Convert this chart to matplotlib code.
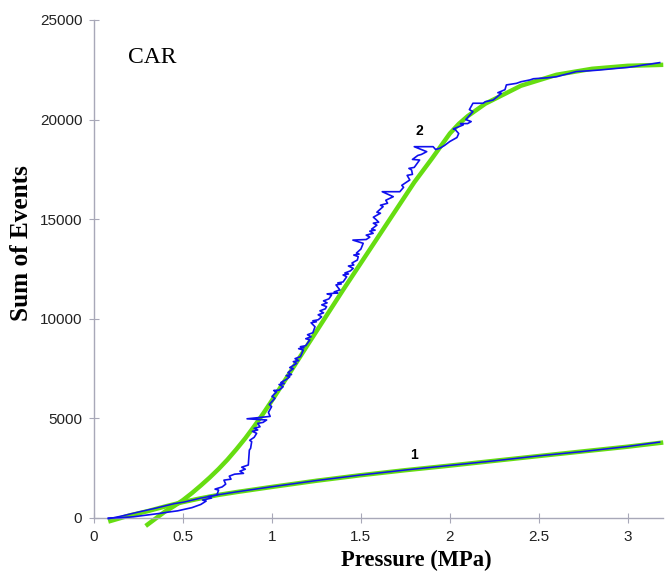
import matplotlib.pyplot as plt

# fitted curves (green)
fit1_x = [0.08, 0.2, 0.3, 0.4, 0.5, 0.6, 0.7, 0.8, 1.0, 1.25, 1.5, 1.75, 2.0, 2.5, 3.0, 3.2]
fit1_y = [-180, 130, 340, 580, 800, 990, 1160, 1300, 1560, 1870, 2150, 2400, 2630, 3110, 3580, 3790]

fit2_x = [0.29, 0.35, 0.4, 0.45, 0.5, 0.55, 0.6, 0.65, 0.7, 0.75, 0.8, 0.85, 0.9, 0.95, 1.0,
          1.1, 1.2, 1.4, 1.6, 1.8, 1.9, 2.0, 2.05, 2.1, 2.2, 2.4, 2.6, 2.8, 3.0, 3.2]
fit2_y = [-400, 0, 330, 600, 900, 1250, 1630, 2030, 2460, 2930, 3450, 4000, 4600, 5230, 5900,
          7280, 8680, 11450, 14150, 16850, 18050, 19300, 19780, 20170, 20800, 21700, 22250,
          22550, 22700, 22750]

# measured curves (blue)
run1_x = [0.08, 0.15, 0.25, 0.35, 0.45, 0.5, 0.52, 0.6, 0.7, 0.8, 1.0, 1.25, 1.5, 1.75, 2.0,
          2.25, 2.5, 2.75, 3.0, 3.18]
run1_y = [-40, 90, 300, 500, 720, 790, 830, 1000, 1170, 1310, 1570, 1880, 2160, 2410, 2640,
          2870, 3120, 3340, 3590, 3810]

run2 = [
    (0.08, 0), (0.15, 20), (0.22, 60), (0.30, 150), (0.36, 220), (0.42, 300), (0.47, 360),
    (0.50, 420), (0.55, 520), (0.60, 680), (0.63, 850), (0.61, 900), (0.66, 1000), (0.64, 1080),
    (0.69, 1150), (0.70, 1400), (0.68, 1450), (0.72, 1560), (0.74, 1700), (0.73, 1900),
    (0.77, 1950), (0.76, 2100), (0.79, 2200), (0.84, 2240), (0.82, 2350), (0.85, 2450),
    (0.83, 2550), (0.867, 2660), (0.873, 3410), (0.88, 3500), (0.886, 3830), (0.875, 3900),
    (0.90, 4050), (0.914, 4250), (0.89, 4350), (0.92, 4420), (0.90, 4500), (0.933, 4580),
    (0.92, 4750), (0.95, 4800), (0.97, 4920), (0.86, 4980), (0.99, 5100), (0.98, 5300),
    (0.998, 5590), (0.985, 5700), (1.017, 6010), (1.0, 6100), (1.026, 6340), (1.01, 6400),
    (1.04, 6420), (1.063, 6590), (1.04, 6700), (1.07, 6750), (1.05, 6800), (1.08, 6950),
    (1.10, 7090), (1.08, 7150), (1.11, 7200), (1.09, 7300), (1.12, 7500), (1.10, 7550),
    (1.139, 7760), (1.12, 7850), (1.15, 7900), (1.13, 8000), (1.16, 8100), (1.176, 8430),
    (1.15, 8500), (1.18, 8550), (1.16, 8600), (1.19, 8650), (1.213, 8940), (1.19, 9000),
    (1.22, 9100), (1.20, 9200), (1.23, 9300), (1.242, 9600), (1.22, 9800), (1.25, 9850),
    (1.23, 9900), (1.26, 9950), (1.279, 10100), (1.26, 10200), (1.29, 10300), (1.27, 10400),
    (1.30, 10500), (1.307, 10610), (1.28, 10700), (1.31, 10800), (1.29, 10900), (1.32, 11000),
    (1.335, 11190), (1.31, 11250), (1.37, 11300), (1.35, 11350), (1.382, 11450), (1.36, 11700),
    (1.39, 11750), (1.37, 11800), (1.40, 11850), (1.42, 12110), (1.40, 12200), (1.43, 12250),
    (1.41, 12300), (1.44, 12400), (1.457, 12530), (1.43, 12650), (1.46, 12700), (1.45, 12800),
    (1.48, 12950), (1.485, 13120), (1.46, 13200), (1.49, 13250), (1.475, 13300), (1.50, 13500),
    (1.513, 13790), (1.455, 13950), (1.53, 13980), (1.55, 14100), (1.53, 14200), (1.569, 14290),
    (1.55, 14400), (1.58, 14450), (1.56, 14500), (1.59, 14700), (1.57, 14800), (1.60, 14850),
    (1.588, 14960), (1.57, 15100), (1.61, 15300), (1.59, 15350), (1.625, 15630), (1.61, 15700),
    (1.65, 15800), (1.64, 15950), (1.682, 16130), (1.62, 16380), (1.719, 16380), (1.74, 16600),
    (1.73, 16700), (1.775, 16970), (1.76, 17200), (1.79, 17250), (1.785, 17470), (1.77, 17550),
    (1.80, 17600), (1.83, 17970), (1.79, 18000), (1.82, 18200), (1.84, 18250), (1.87, 18390),
    (1.80, 18640), (1.906, 18640), (1.92, 18500), (1.944, 18560), (1.97, 18700), (2.00, 18900),
    (2.04, 19100), (2.05, 19300), (2.03, 19500), (2.02, 19530), (2.075, 19730), (2.06, 19800),
    (2.10, 19800), (2.12, 19900), (2.09, 20000), (2.10, 20100), (2.13, 20400), (2.11, 20500),
    (2.13, 20820), (2.187, 20820), (2.20, 20900), (2.243, 20980), (2.26, 21100), (2.29, 21320),
    (2.27, 21350), (2.31, 21500), (2.318, 21740), (2.375, 21820), (2.40, 21900), (2.45, 21990),
    (2.47, 22050), (2.506, 22070), (2.55, 22100), (2.60, 22150), (2.637, 22240), (2.674, 22320),
    (2.71, 22410), (2.75, 22430), (2.80, 22460), (2.843, 22490), (2.90, 22540), (2.936, 22570),
    (3.00, 22620), (3.05, 22680), (3.086, 22740), (3.13, 22790), (3.18, 22860),
]
run2_x, run2_y = zip(*run2)

x_ticks = [0, 0.5, 1, 1.5, 2, 2.5, 3]
x_tick_labels = ["0", "0.5", "1", "1.5", "2", "2.5", "3"]
y_ticks = [0, 5000, 10000, 15000, 20000, 25000]

green = "#66dd11"
blue = "#1010ee"
axis_grey = "#a8a8b8"

fig = plt.figure(figsize=(6.72, 5.76), dpi=100)
ax = fig.add_axes([0.140, 0.1007, 0.847, 0.8646])

ax.plot(fit1_x, fit1_y, color=green, lw=3.2, solid_capstyle="butt", clip_on=False, zorder=2)
ax.plot(fit2_x, fit2_y, color=green, lw=3.2, solid_capstyle="butt", clip_on=False, zorder=2)
ax.plot(run1_x, run1_y, color=blue, lw=1.1, clip_on=False, zorder=3)
ax.plot(run2_x, run2_y, color=blue, lw=1.2, clip_on=False, zorder=3)

ax.text(1.80, 3150, "1", fontsize=10, fontweight="bold", family="Liberation Sans",
        ha="center", va="center")
ax.text(1.83, 19450, "2", fontsize=10, fontweight="bold", family="Liberation Sans",
        ha="center", va="center")
ax.text(0.19, 23100, "CAR", fontsize=17, family="Liberation Serif", ha="left", va="center")

ax.set_xlim(0, 3.2)
ax.set_ylim(0, 25000)
ax.set_xticks(x_ticks)
ax.set_xticklabels(x_tick_labels)
ax.set_yticks(y_ticks)

for side in ["top", "right"]:
    ax.spines[side].set_visible(False)
for side in ["left", "bottom"]:
    ax.spines[side].set_color(axis_grey)
    ax.spines[side].set_linewidth(1.0)

ax.tick_params(direction="inout", length=7, width=0.8, color=axis_grey,
               labelsize=11, labelcolor="#222222", pad=5)
for lab in ax.get_xticklabels() + ax.get_yticklabels():
    lab.set_family("Liberation Sans")

ax.set_xlabel("Pressure (MPa)", fontsize=16.3, fontweight="bold", family="Liberation Serif")
ax.xaxis.set_label_coords(0.566, -0.064)
ax.set_ylabel("Sum of Events", fontsize=18.2, fontweight="bold", family="Liberation Serif")
ax.yaxis.set_label_coords(-0.108, 0.552)

fig.savefig("out.png", dpi=100)
